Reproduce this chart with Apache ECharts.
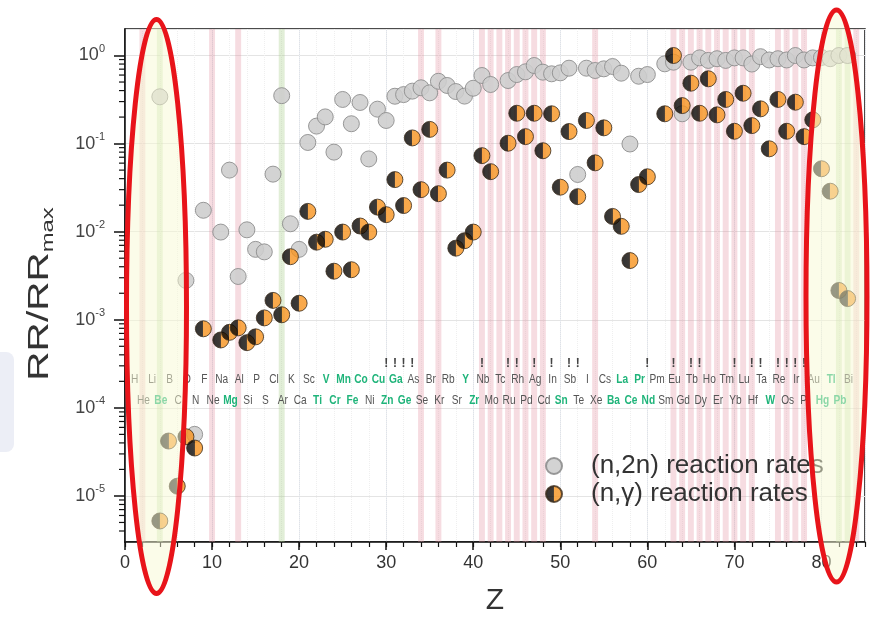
<!DOCTYPE html>
<html><head><meta charset="utf-8">
<script src="https://cdn.jsdelivr.net/npm/echarts@6/dist/echarts.min.js"></script>
<style>html,body{margin:0;padding:0;background:#fff}#c{width:874px;height:624px}</style>
</head><body><div id="c"></div>
<script>
// ---- data ----
const zN2N = [4,7,8,9,11,12,13,14,15,16,17,18,19,20,21,22,23,24,25,26,27,28,29,30,31,32,33,34,35,36,37,38,39,40,41,42,44,45,46,47,48,49,50,51,52,53,54,55,56,57,58,59,60,62,63,64,65,66,67,68,69,70,71,72,73,74,75,76,77,78,79,80,81,82,83];
const rrN2N = [0.34,0.0028,5.0e-5,0.0175,0.0099,0.050,0.0031,0.0105,0.0063,0.0059,0.045,0.35,0.0123,0.0063,0.103,0.158,0.201,0.080,0.317,0.168,0.293,0.067,0.246,0.183,0.345,0.36,0.394,0.43,0.377,0.51,0.457,0.39,0.346,0.425,0.593,0.469,0.52,0.608,0.653,0.77,0.647,0.62,0.636,0.718,0.0446,0.718,0.676,0.706,0.75,0.63,0.099,0.582,0.608,0.805,0.84,0.218,0.84,0.94,0.88,0.92,0.88,0.94,0.94,0.80,0.97,0.89,0.92,0.89,1.0,0.89,0.94,0.95,0.92,1.0,1.0];
const zNG = [4,5,6,7,8,9,11,12,13,14,15,16,17,18,19,20,21,22,23,24,25,26,27,28,29,30,31,32,33,34,35,36,37,38,39,40,41,42,44,45,46,47,48,49,50,51,52,53,54,55,56,57,58,59,60,62,63,64,65,66,67,68,69,70,71,72,73,74,75,76,77,78,79,80,81,82,83];
const rrNG = [5.2e-6,4.2e-5,1.29e-5,4.7e-5,3.5e-5,0.00079,0.00059,0.00072,0.00081,0.00055,0.00064,0.00105,0.00166,0.00114,0.0052,0.00154,0.017,0.0076,0.0082,0.00356,0.0099,0.0037,0.0116,0.0099,0.019,0.0156,0.039,0.0198,0.116,0.030,0.145,0.027,0.050,0.0065,0.0079,0.0099,0.073,0.048,0.101,0.221,0.12,0.221,0.083,0.218,0.032,0.137,0.025,0.183,0.0605,0.151,0.0149,0.0115,0.0047,0.0343,0.042,0.218,1.0,0.27,0.485,0.221,0.544,0.212,0.317,0.138,0.373,0.16,0.248,0.0873,0.317,0.138,0.295,0.12,0.186,0.0518,0.0288,0.00215,0.00174];

// element symbols: odd Z (upper row) and even Z (lower row)
const elemOdd = ['H','Li','B','O','F','Na','Al','P','Cl','K','Sc','V','Mn','Co','Cu','Ga','As','Br','Rb','Y','Nb','Tc','Rh','Ag','In','Sb','I','Cs','La','Pr','Pm','Eu','Tb','Ho','Tm','Lu','Ta','Re','Ir','Au','Tl','Bi'];
const elemEven = ['He','Be','C','N','Ne','Mg','Si','S','Ar','Ca','Ti','Cr','Fe','Ni','Zn','Ge','Se','Kr','Sr','Zr','Mo','Ru','Pd','Cd','Sn','Te','Xe','Ba','Ce','Nd','Sm','Gd','Dy','Er','Yb','Hf','W','Os','Pt','Hg','Pb'];
const greenElems = ['V','Mn','Co','Cu','Ga','Y','La','Pr','Tl','Be','Mg','Ti','Cr','Fe','Zn','Ge','Zr','Sn','Ba','Ce','Nd','W','Hg','Pb'];
const exclaimZ = [30,31,32,33,41,44,45,47,49,51,52,60,63,65,66,70,72,73,75,76,77,78];
const pinkBandZ = [2,10,13,34,36,41,42,43,44,45,46,47,48,54,63,64,65,66,67,68,69,70,71,72,75,76,77,78,84];
const greenBandZ = [4,18,82,83];
const Y_MIN = 3e-6, Y_MAX = 2, X_MIN = 0, X_MAX = 85;
const rowUpperY = 2.1e-4, rowLowerY = 1.21e-4, rowExclY = 3.2e-4;

// ---- build ----
const chart = echarts.init(document.getElementById('c'));
const FONT = '"Liberation Sans", Arial, sans-serif';
const NARROW = '"Liberation Sans", Arial, sans-serif';
const n2nData = zN2N.map((z,i)=>[z, rrN2N[i]]);
const ngData = zNG.map((z,i)=>[z, rrNG[i]]);
const labelData = elemOdd.map((s,i)=>[2*i+1, rowUpperY]).concat(elemEven.map((s,i)=>[2*i+2, rowLowerY]));
const labelText = elemOdd.concat(elemEven);
const minorY = [];
for (let k=-6;k<=0;k++) for (let m=2;m<=9;m++){ const v=m*Math.pow(10,k); if (v>Y_MIN*1.0001 && v<Y_MAX) minorY.push([X_MIN, v]); }

const orangeGrad = new echarts.graphic.LinearGradient(0,0,1,0,[
  {offset:0,color:'#000'},{offset:0.42,color:'#0c0804'},{offset:0.5,color:'#2e1a06'},
  {offset:0.5,color:'#f7931e'},{offset:1,color:'#f7931e'}]);

function bandSeries(list, color){
  return {
    type:'custom', z:1, silent:true,
    data:list.map(z=>[z, 1e-3]),
    renderItem:(p, api)=>{
      const z = api.value(0);
      const a = api.coord([z-0.34, Y_MAX]);
      const b = api.coord([z+0.34, Y_MIN]);
      return {type:'rect', shape:{x:a[0], y:a[1], width:b[0]-a[0], height:b[1]-a[1]}, style:{fill:color}};
    }
  };
}

chart.setOption({
  animation:false,
  backgroundColor:'#fff',
  grid:{left:125, right:9, top:29, bottom:82, show:true, borderColor:'#111', borderWidth:1.5, containLabel:false},
  xAxis:[{
    type:'value', min:X_MIN, max:X_MAX, interval:10,
    name:'Z', nameLocation:'middle', nameGap:44,
    nameTextStyle:{fontSize:30, color:'#333', fontFamily:FONT},
    axisLine:{lineStyle:{color:'#111', width:1.5}},
    axisTick:{length:8, lineStyle:{color:'#111', width:1.5}},
    axisLabel:{fontSize:18, color:'#333', fontFamily:FONT, margin:12, showMaxLabel:false},
    splitLine:{show:true, lineStyle:{color:'#dde2ea', width:1}}
  },{
    type:'value', min:X_MIN, max:X_MAX, interval:2, position:'bottom',
    axisLine:{show:false}, axisLabel:{show:false},
    axisTick:{length:5, lineStyle:{color:'#111', width:1.2}},
    splitLine:{show:true, lineStyle:{color:'#efefef', width:1, type:'dotted'}}
  }],
  yAxis:{
    type:'log', logBase:10, min:Y_MIN, max:Y_MAX,
    axisLine:{show:true, lineStyle:{color:'#111', width:1.5}},
    axisTick:{show:true, length:11, lineStyle:{color:'#111', width:1.5}},
    axisLabel:{
      margin:20, showMinLabel:false, showMaxLabel:false, color:'#444', fontFamily:FONT,
      formatter:(v)=>{ const e=Math.log10(v); if (Math.abs(e-Math.round(e))>1e-6) return ''; return '{b|10}{s|'+Math.round(e)+'}'; },
      rich:{b:{fontSize:18, lineHeight:24, color:'#444', fontFamily:FONT}, s:{fontSize:11, lineHeight:12, verticalAlign:'top', color:'#444', fontFamily:FONT}}
    },
    splitLine:{show:true, lineStyle:{color:'#e4e4e4', width:1}}
  },
  legend:{
    orient:'vertical', left:540, top:448, itemWidth:16, itemHeight:16, itemGap:2,
    textStyle:{fontSize:26, color:'#333', fontFamily:FONT, padding:[0,0,0,24]},
    data:[{name:'(n,2n) reaction rates', icon:'circle'},{name:'(n,\u03b3) reaction rates', icon:'circle'}]
  },
  series:[
    bandSeries(pinkBandZ, 'rgba(225,140,155,0.3)'),
    bandSeries(greenBandZ, 'rgba(170,205,140,0.35)'),
    {
      name:'(n,2n) reaction rates', type:'scatter', z:3, symbol:'circle', symbolSize:16,
      itemStyle:{color:'#cdcdcd', borderColor:'#8c8c8c', borderWidth:1, opacity:0.88},
      emphasis:{disabled:true}, data:n2nData
    },
    {
      name:'(n,\u03b3) reaction rates', type:'scatter', z:4, symbol:'circle', symbolSize:16,
      itemStyle:{color:orangeGrad, borderColor:'#3a2a1a', borderWidth:1},
      emphasis:{disabled:true}, data:ngData
    },
    {
      type:'custom', z:5, silent:true, data:labelData,
      renderItem:(p, api)=>{
        const pt = api.coord([api.value(0), api.value(1)]);
        const s = labelText[p.dataIndex];
        const g = greenElems.indexOf(s)>=0;
        return {type:'text', x:pt[0]+1, y:pt[1], scaleX:0.78,
          style:{text:s, fill:g?'#1fb47a':'#555', font:(g?'bold ':'')+'13px '+NARROW,
            align:'center', verticalAlign:'middle', textAlign:'center', textVerticalAlign:'middle'}};
      }
    },
    {
      type:'custom', z:5, silent:true, data:exclaimZ.map(z=>[z, rowExclY]),
      renderItem:(p, api)=>{
        const pt = api.coord([api.value(0), api.value(1)]);
        return {type:'text', x:pt[0], y:pt[1], style:{text:'!', fill:'#444', font:'bold 12px '+NARROW, align:'center', verticalAlign:'middle', textAlign:'center', textVerticalAlign:'middle'}};
      }
    },
    {
      type:'custom', z:6, silent:true, clip:false, data:minorY,
      renderItem:(p, api)=>{
        const pt = api.coord([api.value(0), api.value(1)]);
        return {type:'line', shape:{x1:pt[0]-6, y1:pt[1], x2:pt[0], y2:pt[1]}, style:{stroke:'#111', lineWidth:1.2}};
      }
    }
  ],
  graphic:[
    {type:'rect', z:0, shape:{x:-8, y:352, width:22, height:100, r:8}, style:{fill:'#eceef6'}},
    {type:'text', z:50, x:40, y:294, rotation:Math.PI/2, scaleX:1.4,
      style:{text:'{a|RR/RR}{b|max}', align:'center', verticalAlign:'middle', textAlign:'center', textVerticalAlign:'middle',
        rich:{a:{fontSize:29, lineHeight:34, fill:'#333', fontFamily:FONT}, b:{fontSize:17, lineHeight:17, verticalAlign:'bottom', fill:'#333', fontFamily:FONT, padding:[14,0,0,0]}}}},
    {type:'ellipse', z:100, silent:true, shape:{cx:156.5, cy:306.5, rx:30, ry:287}, style:{fill:'rgba(248,250,212,0.5)', stroke:'#e8141a', lineWidth:5}},
    {type:'ellipse', z:100, silent:true, shape:{cx:836.5, cy:296, rx:30.5, ry:286}, style:{fill:'rgba(248,250,212,0.5)', stroke:'#e8141a', lineWidth:5}}
  ]
});
</script></body></html>
